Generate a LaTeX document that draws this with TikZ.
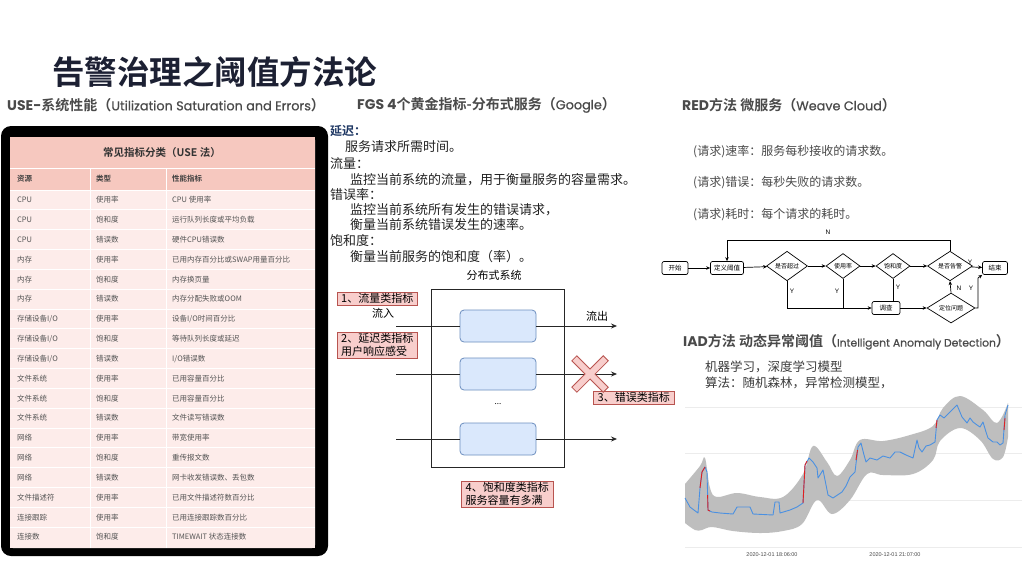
\documentclass[tikz,border=0pt]{standalone}
\usepackage{fontspec}
\setmainfont{Noto Sans CJK SC}
\newfontfamily\cjk{Noto Sans CJK SC}
\newfontfamily\cjkb{Noto Sans CJK SC Bold}
\newfontfamily\pop{Poppins}
\newfontfamily\popm{Poppins}[FakeBold=0.7]
\newfontfamily\lsans{Liberation Sans}
\usetikzlibrary{arrows.meta,shapes.geometric}
\definecolor{titlec}{HTML}{1C2033}
\definecolor{subc}{HTML}{4A4A4A}
\definecolor{bodyc}{HTML}{222222}
\definecolor{hdrf}{HTML}{F6C8BF}
\definecolor{cellf}{HTML}{FDECEA}
\definecolor{cellt}{HTML}{555555}
\definecolor{pinkf}{HTML}{F8CECC}
\definecolor{pinkd}{HTML}{B85450}
\definecolor{bluef}{HTML}{DAE8FC}
\definecolor{blued}{HTML}{6C8EBF}
\definecolor{bandc}{HTML}{BEBEBE}
\definecolor{linec}{HTML}{4A90E2}
\definecolor{redc}{HTML}{E02020}
\definecolor{gridc}{HTML}{ECECEC}
\definecolor{navy}{HTML}{1F3864}
\newcommand\trow[4]{%
  \node[cell] (r#1a) at (17,{190+(#1-0.5)*19.83}) {#2};
  \node[cell] (r#1b) at (96,{190+(#1-0.5)*19.83}) {#3};
  \node[cell] (r#1c) at (172,{190+(#1-0.5)*19.83}) {#4};}
\begin{document}
\begin{tikzpicture}[x=1pt,y=-1pt,
  txt/.style={anchor=west,inner sep=0pt},
  cell/.style={anchor=west,inner sep=0pt,text=cellt,font=\cjk\fontsize{7.5}{8}\selectfont},
  hcell/.style={anchor=west,inner sep=0pt,text=black!75,font=\cjkb\fontsize{7.5}{8}\selectfont},
  body/.style={anchor=west,inner sep=0pt,text=bodyc,font=\cjk\fontsize{13}{14}\selectfont},
  redtxt/.style={anchor=west,inner sep=0pt,text=subc,font=\cjk\fontsize{12}{14}\selectfont},
  pinkbox/.style={draw=pinkd,fill=pinkf,anchor=north west,align=left,inner xsep=2pt,inner ysep=1.2pt,font=\cjk\fontsize{11}{13}\selectfont},
  bluebox/.style={draw=blued,fill=bluef,rounded corners=4pt,minimum width=76pt,minimum height=32pt,line width=0.8pt},
  farrow/.style={-{Stealth[length=6pt,width=5pt]},line width=0.8pt,draw=black!85},
  fbox/.style={draw,rounded corners=2pt,minimum height=13pt,inner sep=1pt,font=\cjk\fontsize{6.5}{7}\selectfont,line width=0.7pt},
  fdia/.style={draw,diamond,inner sep=0pt,font=\cjk\fontsize{6}{7}\selectfont,line width=0.7pt},
  fl/.style={line width=0.7pt},
  fa/.style={-{Stealth[length=4pt,width=3.5pt]},line width=0.7pt},
  flab/.style={inner sep=0pt,font=\lsans\fontsize{6.5}{7}\selectfont},
  head/.style={anchor=west,inner sep=0pt,text=subc,font=\cjkb\fontsize{14}{15}\selectfont}]
\useasboundingbox (0,0) rectangle (1024,579);
\fill[white] (0,0) rectangle (1024,579);

% ---------- title and subtitles ----------
\node[txt,text=titlec,font=\cjkb\fontsize{32.5}{33}\selectfont] (title) at (52,72) {告警治理之阈值方法论};
\node[head] (usehead) at (7,105)
  {{\pop\bfseries USE-}系统性能（{\popm\fontsize{12.8}{13}\selectfont Utilization Saturation and Errors}）};
\node[head] (fgshead) at (357,105)
  {{\pop\bfseries FGS 4}个黄金指标-分布式服务（{\popm\fontsize{12.8}{13}\selectfont Google}）};
\node[head] (redhead) at (682,105)
  {{\pop\bfseries RED}方法 微服务（{\popm\fontsize{12.8}{13}\selectfont Weave Cloud}）};

% ---------- USE table ----------
\fill[black,rounded corners=10pt] (1,126) rectangle (328,556);
\fill[white,rounded corners=3pt] (10,137) rectangle (315,548);
\fill[cellf] (10,190) rectangle (315,548);
\fill[hdrf] (10,137) rectangle (315,190);
\draw[white,line width=0.8pt] (10,168) -- (315,168);
\foreach \i in {0,...,17} \draw[white,line width=0.8pt] (10,{190+\i*19.83}) -- (315,{190+\i*19.83});
\draw[white,line width=0.8pt] (90,168) -- (90,548) (166,168) -- (166,548);
\node[inner sep=0pt,text=black!80,font=\cjkb\fontsize{10.5}{11}\selectfont] (thead) at (162,153) {常见指标分类（USE 法）};
\node[hcell] (h1) at (17,179) {资源};
\node[hcell] (h2) at (96,179) {类型};
\node[hcell] (h3) at (172,179) {性能指标};
\trow{1}{CPU}{使用率}{CPU 使用率}
\trow{2}{CPU}{饱和度}{运行队列长度或平均负载}
\trow{3}{CPU}{错误数}{硬件CPU错误数}
\trow{4}{内存}{使用率}{已用内存百分比或SWAP用量百分比}
\trow{5}{内存}{饱和度}{内存换页量}
\trow{6}{内存}{错误数}{内存分配失败或OOM}
\trow{7}{存储设备I/O}{使用率}{设备I/O时间百分比}
\trow{8}{存储设备I/O}{饱和度}{等待队列长度或延迟}
\trow{9}{存储设备I/O}{错误数}{I/O错误数}
\trow{10}{文件系统}{使用率}{已用容量百分比}
\trow{11}{文件系统}{饱和度}{已用容量百分比}
\trow{12}{文件系统}{错误数}{文件读写错误数}
\trow{13}{网络}{使用率}{带宽使用率}
\trow{14}{网络}{饱和度}{重传报文数}
\trow{15}{网络}{错误数}{网卡收发错误数、丢包数}
\trow{16}{文件描述符}{使用率}{已用文件描述符数百分比}
\trow{17}{连接跟踪}{使用率}{已用连接跟踪数百分比}
\trow{18}{连接数}{饱和度}{TIMEWAIT 状态连接数}

% ---------- FGS text ----------
\node[txt,text=navy,font=\cjkb\fontsize{12}{13}\selectfont] (t1) at (330,131) {延迟：};
\node[body] (t2) at (345,147) {服务请求所需时间。};
\node[body] (t3) at (330,164) {流量：};
\node[body] (t4) at (350,180) {监控当前系统的流量，用于衡量服务的容量需求。};
\node[body] (t5) at (330,195) {错误率：};
\node[body] (t6) at (350,210) {监控当前系统所有发生的错误请求，};
\node[body] (t7) at (350,225) {衡量当前系统错误发生的速率。};
\node[body] (t8) at (330,241) {饱和度：};
\node[body] (t9) at (350,257) {衡量当前服务的饱和度（率）。};

% ---------- FGS diagram ----------
\node[inner sep=0pt,font=\cjk\fontsize{11}{12}\selectfont] (dist) at (494,275) {分布式系统};
\node[draw=black!85,line width=1pt,minimum width=133pt,minimum height=178pt] (sys) at (497.5,378) {};
\node[bluebox] (b1) at (498,326) {};
\node[bluebox] (b2) at (498,374) {};
\node[bluebox] (b3) at (498,439) {};
\node[inner sep=0pt,font=\fontsize{8}{8}\selectfont] (dots) at (498,404) {...};
\coordinate (in1) at (396,326); \coordinate (out1) at (617,326);
\coordinate (in2) at (396,374); \coordinate (out2) at (617,374);
\coordinate (in3) at (396,439); \coordinate (out3) at (617,439);
\draw[line width=0.8pt,draw=black!85] (in1) -- (b1.west) (in2) -- (b2.west) (in3) -- (b3.west);
\draw[farrow] (b1.east) -- (out1);
\draw[farrow] (b2.east) -- (out2);
\draw[farrow] (b3.east) -- (out3);
\node[inner sep=0pt,font=\cjk\fontsize{11}{12}\selectfont] (liuru) at (383,313) {流入};
\node[inner sep=0pt,font=\cjk\fontsize{11}{12}\selectfont] (liuchu) at (597,316) {流出};
\node[pinkbox,minimum width=80pt] (lab1) at (337,292) {1、流量类指标};
\node[pinkbox,minimum width=80pt] (lab2) at (337,332) {2、延迟类指标\\用户响应感受};
\node[pinkbox,minimum width=81pt] (lab3) at (593,391) {3、错误类指标};
\node[pinkbox,minimum width=92pt] (lab4) at (461,481) {4、饱和度类指标\\服务容量有多满};
% red cross
\draw[pinkd,line width=8pt] (574,358) -- (606,390) (574,390) -- (606,358);
\draw[pinkf,line width=6pt] (574.7,358.7) -- (605.3,389.3) (574.7,389.3) -- (605.3,358.7);

% ---------- RED text ----------
\node[redtxt] (r1) at (693,152) {(请求)速率：服务每秒接收的请求数。};
\node[redtxt] (r2) at (693,183) {(请求)错误：每秒失败的请求数。};
\node[redtxt] (r3) at (693,215) {(请求)耗时：每个请求的耗时。};

% ---------- RED flowchart ----------
\node[fbox,minimum width=26pt] (f0) at (675,268) {开始};
\node[fbox,minimum width=33pt] (f1) at (727,268) {定义阈值};
\node[fdia,minimum width=41pt,minimum height=25pt] (d1) at (787,266) {是否超过};
\node[fdia,minimum width=34pt,minimum height=25pt] (d2) at (843,266) {使用率};
\node[fdia,minimum width=34pt,minimum height=25pt] (d3) at (893,266) {饱和度};
\node[fdia,minimum width=45pt,minimum height=26pt] (d4) at (950,266) {是否告警};
\node[fbox,minimum width=25pt] (f2) at (995,268) {结束};
\node[fbox,minimum width=28pt] (f3) at (886,308) {调查};
\node[fdia,minimum width=48pt,minimum height=30pt] (d5) at (951,308) {定位问题};
\draw[fa] (f0) -- (f1);
\draw[fa] (f1) -- (d1);
\draw[fa] (d1) -- (d2);
\draw[fa] (d2) -- (d3);
\draw[fa] (d3) -- (d4);
\draw[fa] (d4) -- (f2);
\coordinate (lp) at (950,240);
\draw[fa] (d4.north) -- (lp) -| (f1.north);
\draw[fa] (d1.south) |- (f3.west);
\draw[fl] (d2.south) -- (d2.south |- f3.west);
\draw[fl] (d3.south) -- (d3.south |- f3.north);
\draw[fa] (f3) -- (d5);
\draw[fa] (d5.north) -- (d4.south);
\coordinate (k5) at (978,278);
\draw[fa] (d5.east) -- (k5 |- d5.east) -- (k5) -- (f2.south west);
\node[flab] (nl1) at (828,232) {N};
\node[flab] (yl1) at (792,291) {Y};
\node[flab] (yl2) at (837,291) {Y};
\node[flab] (yl3) at (898,287) {Y};
\node[flab] (nl2) at (959,288) {N};
\node[flab] (yl4) at (971,288) {Y};
\node[flab] (yl5) at (970,262) {Y};

% ---------- IAD ----------
\node[head] (iadhead) at (683,342)
  {{\pop\bfseries IAD}方法 动态异常阈值（{\popm\fontsize{10.8}{11}\selectfont Intelligent Anomaly Detection}）};
\node[txt,text=subc!80!black,font=\cjk\fontsize{12.5}{14}\selectfont] (i1) at (705,367) {机器学习，深度学习模型};
\node[txt,text=subc!80!black,font=\cjk\fontsize{12.5}{14}\selectfont] (i2) at (705,383) {算法：随机森林，异常检测模型，};
% grid
\foreach \gy in {407,453,500,547} \draw[gridc,line width=0.8pt] (685,\gy) -- (1022,\gy);
% band
\fill[bandc] plot[smooth,tension=0.6] coordinates {(685,484) (700,466) (705,458) (710,488) (717,497) (737,493) (760,497) (783,497) (803,474) (813,446) (827,462) (837,476) (850,460) (860,440) (883,441) (910,435) (933,426) (943,408) (960,396) (983,410) (997,423) (1008,403)}
  -- plot[smooth,tension=0.6] coordinates {(1008,437) (1003,457) (993,459) (980,440) (960,428) (940,441) (933,460) (913,474) (883,475) (867,474) (850,500) (832,514) (817,500) (802,524) (783,531) (760,533) (733,531) (712,527) (702,530) (695,530) (685,523)} -- cycle;
% series
\draw[linec,line width=0.9pt,line join=round] plot coordinates {(685,498) (690,507) (698,513) (700,488) (702,472) (705,467) (707,472) (708,510) (712,512) (720,513) (733,514) (737,507) (750,507) (753,514) (773,515) (775,502) (779,502) (780,513) (790,510) (797,507) (803,503) (805,465) (809,458) (813,462) (817,468) (818,478) (823,470) (826,485) (828,495) (833,498) (842,492) (846,486) (850,477) (855,472) (858,447) (861,443) (864,455) (866,462) (870,458) (877,460) (883,456) (890,458) (895,452) (900,452) (906,455) (913,458) (917,440) (919,448) (922,452) (926,446) (930,445) (935,442) (937,420) (940,415) (944,418) (950,412) (954,408) (957,405) (962,417) (967,423) (970,418) (973,422) (977,425) (980,427) (983,422) (986,432) (988,438) (993,442) (997,442) (1000,445) (1003,443) (1005,415) (1008,405)};
\draw[redc,line width=0.9pt,line join=round] (700,488) -- (702,472) -- (705,467);
\draw[redc,line width=0.9pt] (707.6,495) -- (708,510) -- (710,511);
\draw[redc,line width=0.9pt,line join=round] (803,503) -- (805,465) -- (807,461);
\draw[redc,line width=0.9pt] (856,460) -- (857.5,450);
\draw[redc,line width=0.9pt] (936,428) -- (937,420);
\draw[redc,line width=0.9pt] (1004,430) -- (1005,418);
\node[inner sep=0pt,text=black!70,font=\lsans\fontsize{5.5}{6}\selectfont] (xl1) at (772,555) {2020-12-01 18:06:00};
\node[inner sep=0pt,text=black!70,font=\lsans\fontsize{5.5}{6}\selectfont] (xl2) at (895,555) {2020-12-01 21:07:00};
\end{tikzpicture}
\end{document}
